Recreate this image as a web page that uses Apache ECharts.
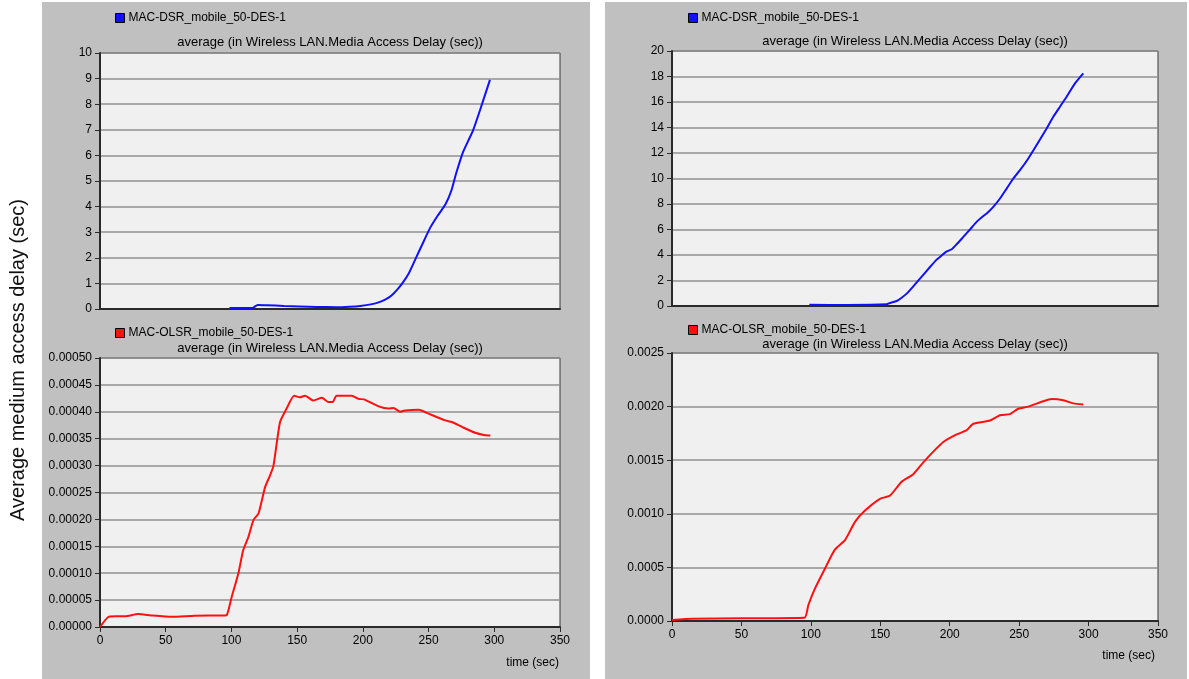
<!DOCTYPE html>
<html>
<head>
<meta charset="utf-8">
<script src="https://cdn.jsdelivr.net/npm/echarts@6/dist/echarts.min.js"></script>
<style>
  html, body { margin: 0; padding: 0; background: #ffffff; }
  #chart { width: 1189px; height: 679px; }
</style>
</head>
<body>
<div id="chart"></div>
<script>
// Labels
const timeTicks = ['0', '50', '100', '150', '200', '250', '300', '350'];
const dsrName = 'MAC-DSR_mobile_50-DES-1';
const olsrName = 'MAC-OLSR_mobile_50-DES-1';
const statLabel = 'average (in Wireless LAN.Media Access Delay (sec))';
const yTitle = 'Average medium access delay (sec)';
const xTitle = 'time (sec)';

// Media access delay samples, [time (sec), delay (sec)]
const dsrLeft = [
  [98.5, 0.04], [116, 0.04], [120, 0.16], [127, 0.15], [140, 0.12], [152, 0.10],
  [165, 0.08], [180, 0.07], [190, 0.09], [198, 0.12], [206, 0.18], [213, 0.28],
  [218, 0.40], [222, 0.54], [226, 0.75], [230, 1.00], [235, 1.40], [240, 1.95],
  [245, 2.50], [251, 3.15], [257, 3.65], [263, 4.10], [267.5, 4.65], [271, 5.30],
  [276, 6.10], [280, 6.55], [284, 7.00], [290, 7.90], [296.7, 8.95]
];

const olsrLeft = [
  [0, 0.0], [6.3, 0.0000185], [11.4, 0.0000198], [19, 0.0000198], [29, 0.000024],
  [39, 0.0000216], [54.6, 0.0000191], [72, 0.000021], [95, 0.0000216], [96.4, 0.0000218],
  [100.3, 0.0000568], [105.3, 0.00010], [109, 0.000143], [113, 0.000168], [116.8, 0.000199],
  [120.6, 0.000211], [125.6, 0.00026], [129.4, 0.000282], [132, 0.00030], [137, 0.000381],
  [142, 0.000406], [147.7, 0.00043], [152, 0.000427], [156, 0.00043], [162.4, 0.000421],
  [168.8, 0.000426], [173.9, 0.000418], [177, 0.000418], [180, 0.00043], [191.6, 0.00043],
  [196.7, 0.000424], [201, 0.000423], [212, 0.00041], [219.5, 0.000406], [223.3, 0.000407],
  [228.4, 0.00040], [231, 0.000402], [242.4, 0.000404], [245, 0.000402], [252.5, 0.000394],
  [262.7, 0.000384], [267.8, 0.000381], [275.4, 0.000372], [285.5, 0.000361], [292, 0.000357],
  [297, 0.000356]
];

const dsrRight = [
  [98.9, 0.10], [125.8, 0.08], [154.6, 0.13], [157, 0.24], [161.8, 0.39], [165.4, 0.65],
  [169, 0.97], [173.8, 1.54], [178.6, 2.15], [185.8, 3.06], [190.6, 3.64], [193, 3.85],
  [197.3, 4.24], [201.4, 4.45], [205, 4.84], [209.8, 5.42], [214.6, 6.00], [219.4, 6.60],
  [227.8, 7.38], [231.4, 7.77], [236.2, 8.43], [241, 9.21], [245.8, 10.00], [250.6, 10.65],
  [256.6, 11.57], [262.6, 12.62], [269.8, 13.93], [274.6, 14.84], [279.4, 15.63],
  [284.2, 16.41], [290.2, 17.46], [296.2, 18.25]
];

const olsrRight = [
  [0, 0.00001], [15, 0.00002], [50, 0.000025], [95.3, 0.00003], [98.2, 0.000149],
  [103, 0.000304], [110.2, 0.00049], [117.4, 0.000668], [124.6, 0.000755], [131.8, 0.000925],
  [139, 0.00103], [149.8, 0.00114], [157, 0.00117], [165.4, 0.00130], [173.8, 0.00137],
  [181, 0.00148], [188.2, 0.00158], [195.4, 0.00167], [205, 0.00174], [212.2, 0.00178],
  [217, 0.00184], [229, 0.00187], [236.2, 0.00192], [243.4, 0.00193], [249.4, 0.00198],
  [256.6, 0.00200], [267.4, 0.00205], [273.4, 0.00207], [281.8, 0.00206], [289, 0.00203],
  [296.2, 0.00202]
];

const FONT = '"Liberation Sans", Arial, sans-serif';
const chart = echarts.init(document.getElementById('chart'));

const grids = [
  { left: 100, top: 53,  width: 460, height: 256 },
  { left: 100, top: 358, width: 460, height: 269 },
  { left: 672, top: 51,  width: 486, height: 255 },
  { left: 672, top: 353, width: 486, height: 268 }
].map(g => Object.assign({
  show: true, backgroundColor: '#f0f0f0', borderColor: '#3a3a3a', borderWidth: 1
}, g));

function xAxisFor(i, withLabels) {
  return {
    type: 'value', gridIndex: i, min: 0, max: 350, interval: 50,
    splitLine: { show: false },
    axisLine: { show: true, lineStyle: { color: '#2a2a2a', width: 2 } },
    axisTick: { show: withLabels, length: 5, lineStyle: { color: '#2a2a2a', width: 1 } },
    axisLabel: {
      show: withLabels, margin: 8, color: '#000', fontFamily: FONT, fontSize: 12,
      formatter: (v) => timeTicks[Math.round(v / 50)]
    }
  };
}

function yAxisFor(i, max, interval, decimals) {
  return {
    type: 'value', gridIndex: i, min: 0, max: max, interval: interval,
    splitLine: { show: true, lineStyle: { color: '#909090', width: 1.5 } },
    axisLine: { show: true, lineStyle: { color: '#2a2a2a', width: 2 } },
    axisTick: { show: true, length: 5, lineStyle: { color: '#2a2a2a', width: 1 } },
    axisLabel: {
      margin: 8, color: '#000', fontFamily: FONT, fontSize: 12,
      formatter: (v) => v.toFixed(decimals)
    }
  };
}

function lineSeries(name, i, data, color) {
  return {
    type: 'line', name: name, xAxisIndex: i, yAxisIndex: i, data: data,
    showSymbol: false, symbol: 'none', smooth: 0.2, animation: false,
    lineStyle: { color: color, width: 2 }, itemStyle: { color: color }
  };
}

function legendAt(name, left, top) {
  return {
    data: [name], left: left, top: top, orient: 'horizontal',
    icon: 'rect', itemWidth: 9, itemHeight: 9, itemGap: 6,
    itemStyle: { borderColor: '#000', borderWidth: 1 },
    textStyle: { color: '#000', fontFamily: FONT, fontSize: 12, padding: [0, 0, 0, -1] },
    padding: 0, selectedMode: false
  };
}

function text(x, y, str, opts) {
  return Object.assign({
    type: 'text', x: x, y: y, silent: true,
    style: Object.assign({
      text: str, fill: '#000', font: '12px ' + FONT,
      textAlign: 'center', textVerticalAlign: 'middle'
    }, (opts && opts.style) || {})
  }, (opts && opts.el) || {});
}

const subStyle = { style: { font: '13px ' + FONT } };

chart.setOption({
  backgroundColor: '#ffffff',
  animation: false,
  grid: grids,
  xAxis: [xAxisFor(0, false), xAxisFor(1, true), xAxisFor(2, false), xAxisFor(3, true)],
  yAxis: [
    yAxisFor(0, 10, 1, 0),
    yAxisFor(1, 0.0005, 0.00005, 5),
    yAxisFor(2, 20, 2, 0),
    yAxisFor(3, 0.0025, 0.0005, 4)
  ],
  legend: [
    legendAt(dsrName, 115, 12),
    legendAt(olsrName, 115, 327),
    legendAt(dsrName, 688, 12),
    legendAt(olsrName, 688, 324)
  ],
  series: [
    lineSeries(dsrName, 0, dsrLeft, '#1010ff'),
    lineSeries(olsrName, 1, olsrLeft, '#ff1010'),
    lineSeries(dsrName, 2, dsrRight, '#1010ff'),
    lineSeries(olsrName, 3, olsrRight, '#ff1010')
  ],
  graphic: [
    { type: 'rect', z: -100, silent: true, shape: { x: 42, y: 2, width: 548, height: 677 }, style: { fill: '#c0c0c0' } },
    { type: 'rect', z: -100, silent: true, shape: { x: 605, y: 2, width: 582, height: 677 }, style: { fill: '#c0c0c0' } },
    text(330, 42, statLabel, subStyle),
    text(330, 348, statLabel, subStyle),
    text(915, 41, statLabel, subStyle),
    text(915, 344, statLabel, subStyle),
    text(559, 663, xTitle, { style: { textAlign: 'right' } }),
    text(1155, 656, xTitle, { style: { textAlign: 'right' } }),
    text(18, 360, yTitle, {
      style: { font: '20px ' + FONT, fill: '#111' },
      el: { rotation: Math.PI / 2 }
    })
  ]
});
</script>
</body>
</html>
